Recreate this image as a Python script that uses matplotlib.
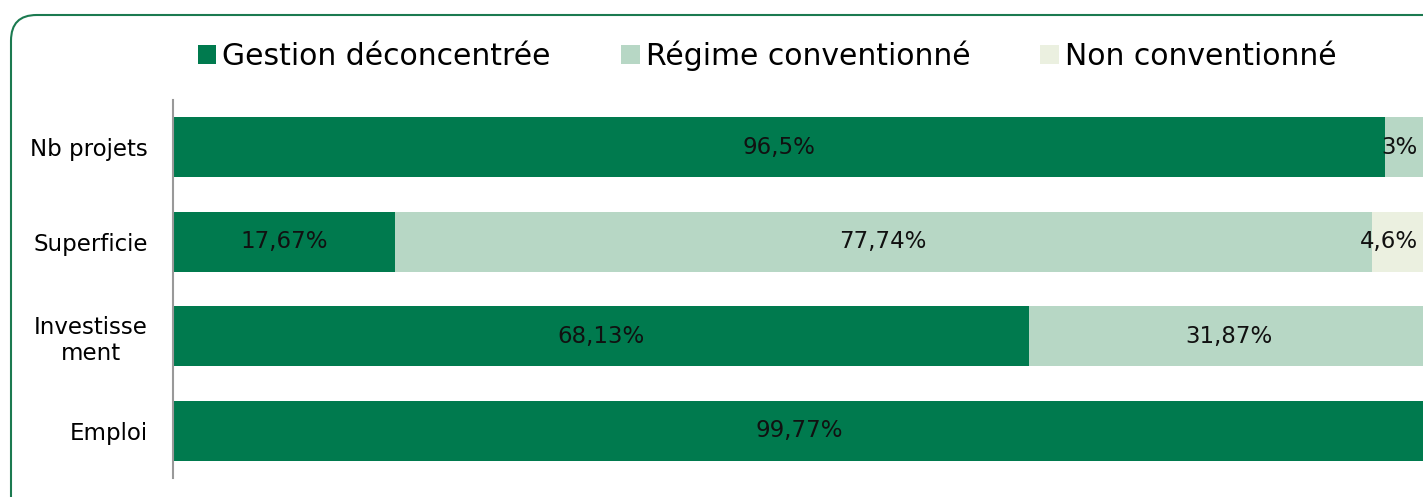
import matplotlib.pyplot as plt
from matplotlib.patches import FancyBboxPatch, Patch

categories = ['Nb projets', 'Superficie', 'Investisse\nment', 'Emploi']
series = ['Gestion déconcentrée', 'Régime conventionné', 'Non conventionné']
gestion = [96.5, 17.67, 68.13, 99.77]
regime = [3.0, 77.74, 31.87, 0.0]
non_conv = [0.5, 4.6, 0.0, 0.23]
labels_gestion = ['96,5%', '17,67%', '68,13%', '99,77%']
labels_regime = ['3%', '77,74%', '31,87%', '']
labels_non = ['', '4,6%', '', '']

colors = ['#007a4e', '#b7d7c5', '#ebf0e0']
plt.rcParams['font.family'] = ['DejaVu Sans']

W, H = 1423, 497
fig = plt.figure(figsize=(W / 100, H / 100), dpi=100)

# rounded frame
frame = FancyBboxPatch((11 / W, -0.2), 1.2, (497 - 15) / H + 0.2,
                       boxstyle='round,pad=0,rounding_size=0.018',
                       transform=fig.transFigure, facecolor='white',
                       edgecolor='#1b7a50', linewidth=1.5, mutation_aspect=W / H,
                       zorder=-5)
fig.patches.append(frame)

ax = fig.add_axes([173 / W, (H - 478) / H, (W - 173) / W, 378 / H])
ax.patch.set_alpha(0)
xmax = 99.5
ypos = list(range(len(categories)))
h = 0.64

left = [0] * 4
for vals, labs, col in [(gestion, labels_gestion, colors[0]),
                        (regime, labels_regime, colors[1]),
                        (non_conv, labels_non, colors[2])]:
    ax.barh(ypos, vals, left=left, height=h, color=col, linewidth=0)
    for i, (v, lab) in enumerate(zip(vals, labs)):
        if not lab:
            continue
        mid = left[i] + v / 2
        if mid > xmax - 4:
            # small segment at the visible edge: keep label inside
            ax.text(xmax - 0.4, i, lab, ha='right', va='center',
                    fontsize=16.5, color='#111111')
        else:
            ax.text(mid, i, lab, ha='center', va='center',
                    fontsize=16.5, color='#111111')
    left = [l + v for l, v in zip(left, vals)]

ax.set_xlim(0, xmax)
ax.set_ylim(3.5, -0.5)
ax.set_yticks(ypos)
ax.set_yticklabels(categories, fontsize=16.5, multialignment='center')
ax.tick_params(axis='y', length=0, pad=18)
ax.set_xticks([])
for s in ['top', 'right', 'bottom']:
    ax.spines[s].set_visible(False)
ax.spines['left'].set_color('#999999')
ax.spines['left'].set_linewidth(1.5)

handles = [Patch(facecolor=c, edgecolor='none') for c in colors]
fig.legend(handles, series, loc='center left', bbox_to_anchor=(186 / W, 1 - 56 / H),
           ncol=3, frameon=False, fontsize=21.5, handlelength=0.62, handleheight=0.62,
           handletextpad=0.2, columnspacing=2.35, borderaxespad=0)

fig.savefig('out.png', dpi=100)
